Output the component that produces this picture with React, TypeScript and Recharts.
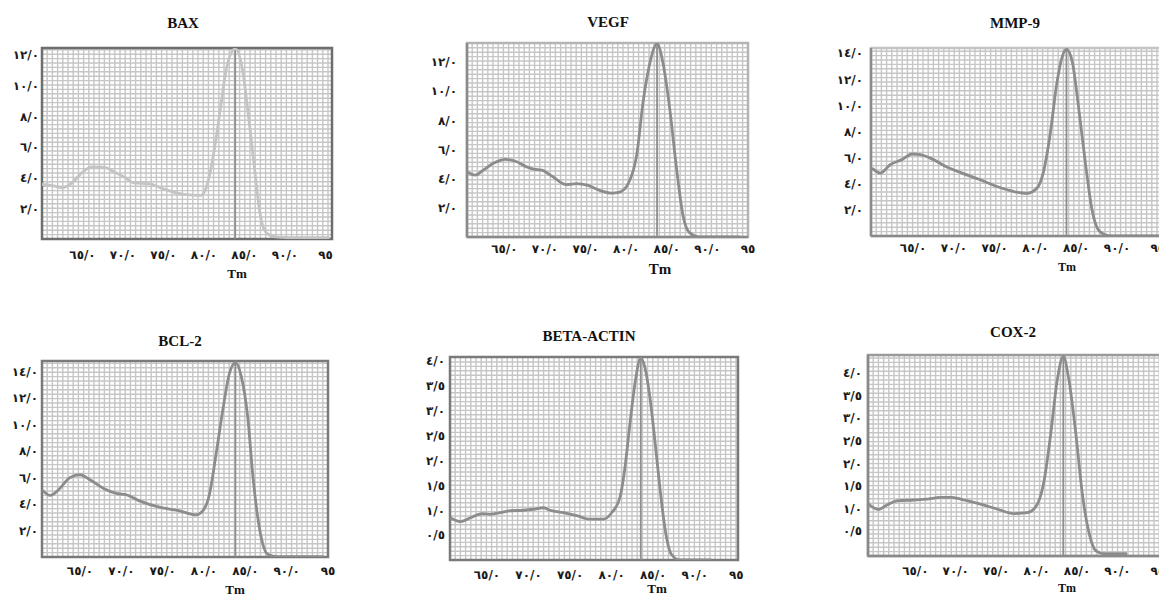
import React from 'react';
import { LineChart, Line, XAxis, YAxis, CartesianGrid, ReferenceLine, ReferenceArea } from 'recharts';

// ---------- data ----------
const X_TICKS = [65, 70, 75, 80, 85, 90, 95];
const Y_TICKS_12 = [2, 4, 6, 8, 10, 12];
const Y_TICKS_14 = [2, 4, 6, 8, 10, 12, 14];
const Y_TICKS_4 = [0.5, 1, 1.5, 2, 2.5, 3, 3.5, 4];

const baxTemp = [60, 61.2, 62.45, 63.7, 64.9, 66.15, 67.6, 69.0, 70.3, 71.3, 73.35, 74.6, 75.85, 77.5, 79.6, 80.1, 80.75, 81.4, 82.0, 82.8, 83.85, 84.7, 85.5, 86.3, 86.9, 87.5, 88.5, 89.7, 92, 95.5];
const baxValue = [3.56, 3.5, 3.34, 3.66, 4.31, 4.7, 4.68, 4.35, 3.99, 3.66, 3.6, 3.34, 3.12, 2.91, 2.84, 3.12, 4.31, 6.25, 8.4, 11.2, 12.4, 11.2, 7.97, 4.31, 1.72, 0.54, 0.17, 0.1, 0.08, 0.08];

const vegfTemp = [60.37, 61.4, 62.4, 63.65, 65.1, 66.3, 67.75, 68.55, 69.6, 71.0, 72.65, 73.9, 75.3, 76.75, 78.2, 79.2, 80.25, 81.3, 82.1, 82.9, 83.8, 84.55, 85.4, 86.2, 87.0, 87.8, 89.05, 94.0];
const vegfValue = [4.47, 4.24, 4.58, 5.05, 5.32, 5.21, 4.81, 4.65, 4.58, 4.12, 3.59, 3.66, 3.54, 3.19, 3.01, 3.08, 3.66, 5.63, 9.33, 11.88, 13.26, 11.88, 8.63, 4.7, 1.46, 0.3, 0.0, 0.0];

const mmpTemp = [59.98, 61.0, 62.2, 63.65, 64.9, 65.9, 67.5, 69.15, 71.0, 73.25, 75.3, 77.3, 78.95, 80.2, 81.0, 81.8, 82.6, 83.25, 83.8, 84.5, 85.3, 86.1, 86.9, 87.9, 89.2, 96];
const mmpValue = [5.2, 4.82, 5.46, 5.85, 6.28, 6.23, 5.85, 5.28, 4.82, 4.31, 3.79, 3.41, 3.26, 3.67, 4.95, 7.77, 11.6, 13.67, 14.3, 13.4, 9.8, 5.7, 2.13, 0.33, 0.0, 0.0];

const bclTemp = [60.38, 61.4, 62.4, 63.8, 65.0, 66.2, 67.8, 69.4, 70.6, 72.2, 74.6, 77.05, 79.05, 79.85, 80.65, 81.45, 82.25, 83.05, 83.8, 84.5, 85.3, 85.9, 86.5, 87.1, 87.7, 88.7, 94.5];
const bclValue = [5.08, 4.65, 5.08, 6.01, 6.21, 5.83, 5.2, 4.8, 4.7, 4.24, 3.76, 3.48, 3.18, 3.48, 4.7, 7.73, 11.0, 13.8, 14.67, 13.66, 10.5, 6.2, 3.0, 1.0, 0.2, 0.03, 0.03];

const actinTemp = [60.6, 61.8, 63.0, 64.4, 65.4, 66.6, 67.8, 69.4, 70.6, 71.8, 72.6, 74.2, 75.8, 77.4, 79.0, 80.0, 81.0, 81.6, 82.2, 82.8, 83.5, 84.0, 84.6, 85.2, 85.8, 86.4, 87.2, 88.2, 92.0];
const actinValue = [0.85, 0.77, 0.85, 0.93, 0.92, 0.95, 0.99, 1.0, 1.02, 1.05, 1.0, 0.95, 0.89, 0.82, 0.82, 0.95, 1.26, 1.86, 2.74, 3.54, 4.06, 3.87, 3.27, 2.4, 1.46, 0.65, 0.11, 0.0, 0.0];

const coxTemp = [59.13, 60.45, 61.5, 62.7, 64.8, 66.45, 68.1, 69.55, 71.0, 73.05, 75.1, 77.2, 78.85, 79.9, 80.9, 81.75, 82.55, 83.3, 84.0, 84.85, 85.65, 86.5, 87.3, 88.35, 91.2];
const coxValue = [1.11, 0.98, 1.08, 1.17, 1.19, 1.21, 1.25, 1.25, 1.19, 1.1, 0.99, 0.89, 0.91, 1.04, 1.59, 2.66, 3.84, 4.37, 3.84, 2.66, 1.33, 0.45, 0.07, 0.0, 0.0];

// ---------- helpers ----------
const AR_DIGITS = ['٠', '١', '٢', '٣', '٤', '٥', '٦', '٧', '٨', '٩'];
const toArabic = (s: string) => s.replace(/[0-9]/g, (d) => AR_DIGITS[Number(d)]);
const fmtY = (v: number) => toArabic(v.toFixed(1).replace('.', '/'));
const fmtX = (v: number) => (v === 95 ? toArabic('95') : toArabic(v.toFixed(1).replace('.', '/')));

type Box = { l: number; t: number; r: number; b: number };
type Panel = {
  title: string;
  temps: number[];
  values: number[];
  tm: number;
  yTicks: number[];
  xDomain: [number, number];
  yDomain: [number, number];
  box: Box;
  lineColor: string;
  frameColor: string;
  axisColor: string | null;
  titleX: number;
  titleY: number;
  tmX: number;
  tmY: number;
  tmSize: number;
  yGap: number;
  xGap: number;
};

const panels: Panel[] = [
  {
    title: 'BAX', temps: baxTemp, values: baxValue, tm: 83.85, yTicks: Y_TICKS_12,
    xDomain: [60, 95.8], yDomain: [0, 12.45], box: { l: 42, t: 48, r: 332, b: 239 },
    lineColor: '#c4c4c4', frameColor: '#6e6e6e', axisColor: null,
    titleX: 183, titleY: 23, tmX: 237, tmY: 273, tmSize: 13, yGap: 3, xGap: 16,
  },
  {
    title: 'VEGF', temps: vegfTemp, values: vegfValue, tm: 83.8, yTicks: Y_TICKS_12,
    xDomain: [60.4, 95], yDomain: [0, 13.3], box: { l: 467, t: 43, r: 748, b: 237 },
    lineColor: '#8c8c8c', frameColor: '#b4b4b4', axisColor: '#8a8a8a',
    titleX: 608, titleY: 22, tmX: 660, tmY: 269, tmSize: 15, yGap: 10, xGap: 12,
  },
  {
    title: 'MMP-9', temps: mmpTemp, values: mmpValue, tm: 83.8, yTicks: Y_TICKS_14,
    xDomain: [59.85, 96], yDomain: [0, 14.4], box: { l: 871, t: 48, r: 1166, b: 236 },
    lineColor: '#8c8c8c', frameColor: '#c4c4c4', axisColor: '#8a8a8a',
    titleX: 1015, titleY: 23, tmX: 1067, tmY: 267, tmSize: 12, yGap: 8, xGap: 12,
  },
  {
    title: 'BCL-2', temps: bclTemp, values: bclValue, tm: 83.8, yTicks: Y_TICKS_14,
    xDomain: [60.4, 95], yDomain: [0, 14.8], box: { l: 42, t: 361, r: 328, b: 557 },
    lineColor: '#8c8c8c', frameColor: '#7a7a7a', axisColor: null,
    titleX: 180, titleY: 341, tmX: 235, tmY: 589, tmSize: 13, yGap: 4, xGap: 14,
  },
  {
    title: 'BETA-ACTIN', temps: actinTemp, values: actinValue, tm: 83.5, yTicks: Y_TICKS_4,
    xDomain: [60.55, 95.2], yDomain: [0, 4.08], box: { l: 450, t: 357, r: 738, b: 560 },
    lineColor: '#8c8c8c', frameColor: '#7a7a7a', axisColor: null,
    titleX: 589, titleY: 336, tmX: 657, tmY: 588, tmSize: 13, yGap: 5, xGap: 15,
  },
  {
    title: 'COX-2', temps: coxTemp, values: coxValue, tm: 83.3, yTicks: Y_TICKS_4,
    xDomain: [59.15, 96], yDomain: [-0.05, 4.4], box: { l: 868, t: 355, r: 1166, b: 556 },
    lineColor: '#8c8c8c', frameColor: '#9a9a9a', axisColor: '#8a8a8a',
    titleX: 1013, titleY: 332, tmX: 1067, tmY: 588, tmSize: 12, yGap: 6, xGap: 15,
  },
];

const Y_W = 44;
const M = 4;
const M_R = 24;
const X_H = 30;
const V_STEP = 5.2;
const H_STEP = 4.4;

const vGen = (props: any) => {
  const o = props && props.offset ? props.offset : { left: 0, width: props.width };
  const out: number[] = [];
  for (let x = o.left + V_STEP; x < o.left + o.width - 1; x += V_STEP) out.push(x);
  return out;
};
const hGen = (props: any) => {
  const o = props && props.offset ? props.offset : { top: 0, height: props.height };
  const out: number[] = [];
  for (let y = o.top + o.height - H_STEP; y > o.top + 1; y -= H_STEP) out.push(y);
  return out;
};

const tickStyle = {
  fontSize: 12,
  fontWeight: 700,
  fill: '#1a1a1a',
  fontFamily: "'DejaVu Sans', sans-serif",
  letterSpacing: 1,
};

function PanelChart({ p }: { p: Panel }) {
  const data = p.temps.map((t, i) => ({ t, v: p.values[i] }));
  const w = p.box.r - p.box.l + Y_W + M_R;
  const h = p.box.b - p.box.t + M + X_H;
  const axisLine = p.axisColor ? { stroke: p.axisColor, strokeWidth: 2.5 } : false;
  return (
    <div style={{ position: 'absolute', left: p.box.l - Y_W, top: p.box.t - M }}>
      <LineChart width={w} height={h} data={data} margin={{ top: M, right: M_R, bottom: 0, left: 0 }}>
        <CartesianGrid
          stroke="#c6c6c6"
          strokeWidth={1.4}
          verticalCoordinatesGenerator={vGen}
          horizontalCoordinatesGenerator={hGen}
        />
        <XAxis
          type="number"
          dataKey="t"
          domain={p.xDomain}
          allowDataOverflow
          ticks={X_TICKS}
          interval={0}
          tickFormatter={fmtX}
          height={X_H}
          tickLine={false}
          tickSize={0}
          tickMargin={p.xGap - 5}
          axisLine={axisLine as any}
          tick={tickStyle}
        />
        <YAxis
          type="number"
          domain={p.yDomain}
          allowDataOverflow
          ticks={p.yTicks}
          interval={0}
          tickFormatter={fmtY}
          width={Y_W}
          tickLine={false}
          tickSize={0}
          tickMargin={p.yGap}
          axisLine={axisLine as any}
          tick={tickStyle}
        />
        <ReferenceArea
          x1={p.xDomain[0]}
          x2={p.xDomain[1]}
          y1={p.yDomain[0]}
          y2={p.yDomain[1]}
          fill="none"
          fillOpacity={0}
          stroke={p.frameColor}
          strokeWidth={2.5}
          ifOverflow="visible"
        />
        <ReferenceLine x={p.tm} stroke="#8e8e8e" strokeWidth={1.8} />
        <Line
          type="monotone"
          dataKey="v"
          stroke={p.lineColor}
          strokeWidth={2.8}
          dot={false}
          isAnimationActive={false}
        />
      </LineChart>
    </div>
  );
}

const serif = "'Liberation Serif', 'Times New Roman', serif";

export default function App() {
  return (
    <div
      style={{
        position: 'absolute',
        left: 0,
        top: 0,
        width: 1159,
        height: 596,
        overflow: 'hidden',
        background: '#fff',
      }}
    >
      {panels.map((p) => (
        <PanelChart key={p.title} p={p} />
      ))}
      {panels.map((p) => (
        <div
          key={p.title + '-title'}
          style={{
            position: 'absolute',
            left: p.titleX,
            top: p.titleY,
            transform: 'translate(-50%, -50%)',
            fontFamily: serif,
            fontWeight: 700,
            fontSize: 15,
            color: '#111',
            whiteSpace: 'nowrap',
            lineHeight: 1,
          }}
        >
          {p.title}
        </div>
      ))}
      {panels.map((p) => (
        <div
          key={p.title + '-tm'}
          style={{
            position: 'absolute',
            left: p.tmX,
            top: p.tmY,
            transform: 'translate(-50%, -50%)',
            fontFamily: serif,
            fontWeight: 700,
            fontSize: p.tmSize,
            color: '#111',
            whiteSpace: 'nowrap',
            lineHeight: 1,
          }}
        >
          Tm
        </div>
      ))}
    </div>
  );
}
